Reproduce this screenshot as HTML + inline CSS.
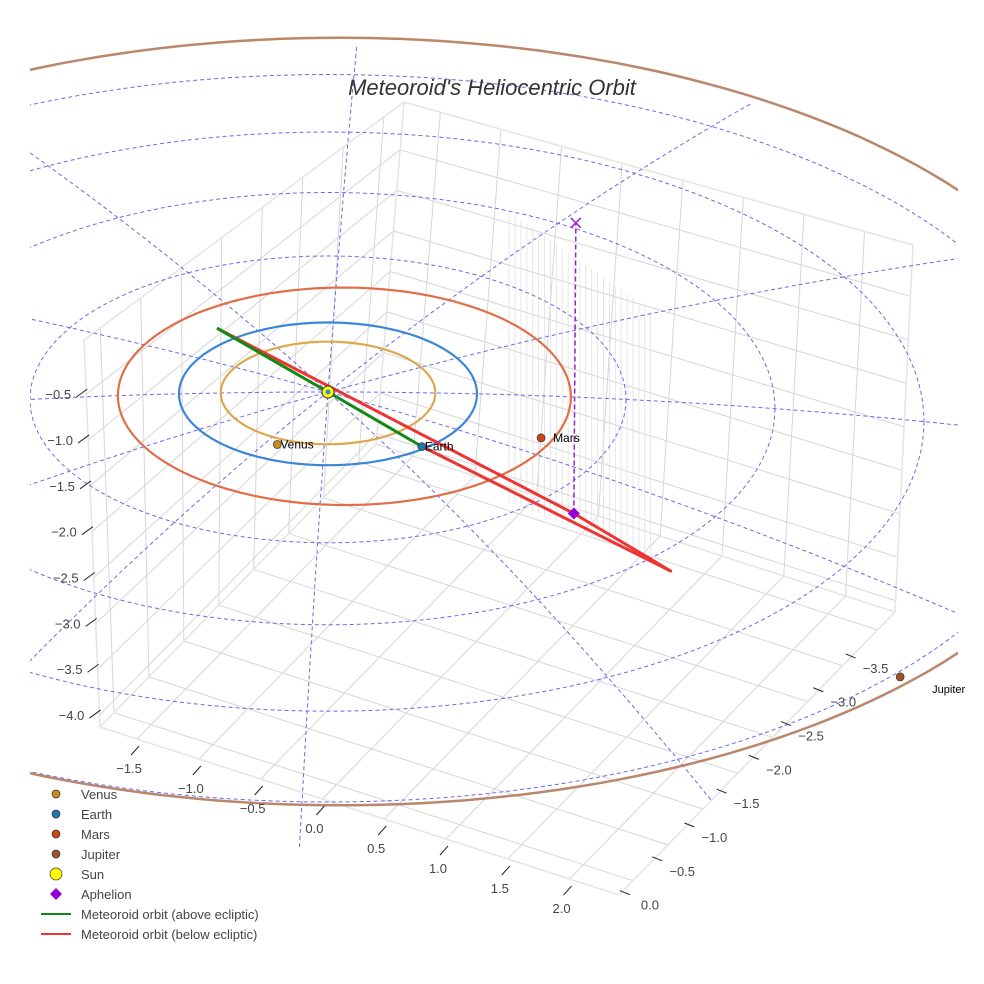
<!DOCTYPE html>
<html><head><meta charset="utf-8"><style>
html,body{margin:0;padding:0;background:#fff;}
svg{display:block;font-family:"Liberation Sans",Arial,sans-serif;}
</style></head><body>
<svg id="chart" width="984" height="984" viewBox="0 0 984 984" xmlns="http://www.w3.org/2000/svg">
<defs><clipPath id="clip"><rect x="30" y="0" width="928" height="984"/></clipPath></defs>
<rect x="0" y="0" width="984" height="984" fill="#fff"/>
<g clip-path="url(#clip)">
<g id="box"></g>
<g id="drops"></g>
<g id="rings"></g>
<g id="orbits"></g>
</g>
<g id="meteor"></g>
<g id="marks"></g>
<g id="ticks"></g>
<text x="492" y="95" text-anchor="middle" font-size="22" font-style="italic" fill="#333">Meteoroid's Heliocentric Orbit</text>
<g id="legend"></g>
</svg>
<script>
// ---- data ----
const planetNames = ["Venus","Earth","Mars","Jupiter"];
const planetOrbitRadii = [0.72, 1.0, 1.52, 5.2];
const planetOrbitOffsetX = [0, 0, 0.11, 0.08];
const planetOrbitOffsetY = [0, 0, 0, 0.4];
const planetX = [-0.34, 0.63, 1.43, 3.84];
const planetY = [0.72, 0.74, 0.58, 3.86];
const planetColors = ["#c98a1e","#1f77b4","#cc4411","#a0522d"];
const orbitColors = ["#dba84e","#3b86d6","#e06e48","#b9876c"];
const ringRadii = [1, 2, 3, 4, 5];
const spokeAngles = [0, 30, 62, 92, 121, 150];
const meteorAboveX = [-0.745, 0, 0.63];
const meteorAboveY = [-0.93, 0, 0.74];
const meteorBelowX = [-0.745, 1.65, 2.30, 0.63];
const meteorBelowY = [-0.93, 1.56, 2.22, 0.74];
const aphelionX = [1.65];
const aphelionY = [1.56];
const aphelionZ = [3.17];
const xTickLabels = ["−1.5","−1.0","−0.5","0.0","0.5","1.0","1.5","2.0"];
const xTickValues = [-1.5,-1.0,-0.5,0,0.5,1.0,1.5,2.0];
const yTickLabels = ["0.0","−0.5","−1.0","−1.5","−2.0","−2.5","−3.0","−3.5"];
const yTickValues = [0,-0.5,-1.0,-1.5,-2.0,-2.5,-3.0,-3.5];
const zTickLabels = ["−0.5","−1.0","−1.5","−2.0","−2.5","−3.0","−3.5","−4.0"];
const zTickValues = [-0.5,-1.0,-1.5,-2.0,-2.5,-3.0,-3.5,-4.0];

const NS="http://www.w3.org/2000/svg";
function mk(parent, tag, attrs){const e=document.createElementNS(NS,tag);for(const k in attrs)e.setAttribute(k,attrs[k]);parent.appendChild(e);return e;}
function proj(x,y){const r2=x*x+y*y,r=Math.sqrt(r2)||1;return [328+149*x, 392+71*y+r2*(1.85+0.35*y/r)];}
// outer-planet projection (far orbit, flatter perspective)
function projFar(x,y){return [328+149*x, 392+73.8*y];}
const ZS=91.7;

// ---- box ----
const L=[100,727],N=[619,895],R=[895,612],B=[376,444],TL=[84,340],TB=[404,102],TR=[913,245];
function bil(a,b,c,d,t,s){
  return [(1-t)*(1-s)*a[0]+t*(1-s)*b[0]+t*s*c[0]+(1-t)*s*d[0],(1-t)*(1-s)*a[1]+t*(1-s)*b[1]+t*s*c[1]+(1-t)*s*d[1]];}
const box=document.getElementById('box');
function gl(p,q,c,w){const l=mk(box,'line',{x1:p[0],y1:p[1],x2:q[0],y2:q[1],stroke:c||'#d6d6d6','stroke-width':w||1});

}
const xt=v=>(v+1.8)/4.2, ys=v=>(0.2-v)/3.95, zh=v=>(v+4.13)/4.22;
xTickValues.forEach(v=>{const t=xt(v);gl(bil(L,N,R,B,t,0),bil(L,N,R,B,t,1));});
yTickValues.forEach(v=>{const s=ys(v);gl(bil(L,N,R,B,0,s),bil(L,N,R,B,1,s));});
yTickValues.forEach(v=>{const s=ys(v);gl(bil(L,B,TB,TL,s,0),bil(L,B,TB,TL,s,1));});
zTickValues.forEach(v=>{const h=zh(v);gl(bil(L,B,TB,TL,0,h),bil(L,B,TB,TL,1,h));});
xTickValues.forEach(v=>{const t=xt(v);gl(bil(B,R,TR,TB,t,0),bil(B,R,TR,TB,t,1));});
zTickValues.forEach(v=>{const h=zh(v);gl(bil(B,R,TR,TB,0,h),bil(B,R,TR,TB,1,h));});
[[L,N],[N,R],[L,TL],[B,TB],[R,TR],[TL,TB],[TB,TR],[L,B],[B,R]].forEach(e=>gl(e[0],e[1],'#e4e4e4',1.5));

// ---- faint drop lines ----
const drops=document.getElementById('drops');
for(let i=0;i<=24;i++){const f=i/24;const x=meteorBelowX[1]+(meteorBelowX[2]-meteorBelowX[1])*f-0.3+0.3*f, y=meteorBelowY[1]+(meteorBelowY[2]-meteorBelowY[1])*f;
 const p=proj(x,y);const l=mk(drops,'line',{x1:p[0]-20,y1:p[1]-10,x2:p[0]-20,y2:p[1]-300+f*40,stroke:'#e0e0e0','stroke-width':0.8});
 
 }

// ---- rings & spokes ----
const rings=document.getElementById('rings');
ringRadii.forEach(r=>{let d='';for(let i=0;i<=180;i++){const a=i/180*2*Math.PI;const p=proj(r*Math.cos(a),r*Math.sin(a));d+=(i?'L':'M')+p[0].toFixed(1)+' '+p[1].toFixed(1);}
 const e=mk(rings,'path',{d:d,fill:'none',stroke:'#6a6ae8','stroke-width':1,'stroke-dasharray':'4 3'});
 
 });
spokeAngles.forEach(deg=>{const a=deg*Math.PI/180;let d='';for(let i=-40;i<=40;i++){const r=i/40*5.5;const p=proj(r*Math.cos(a),r*Math.sin(a));d+=(i>-40?'L':'M')+p[0].toFixed(1)+' '+p[1].toFixed(1);}
 const e=mk(rings,'path',{d:d,fill:'none',stroke:'#6a6ae8','stroke-width':1,'stroke-dasharray':'4 3'});
 
 });

// ---- planet orbits ----
const orbits=document.getElementById('orbits');
const pp=(k,x,y)=>k==3?projFar(x,y):proj(x,y);
planetOrbitRadii.forEach((r,k)=>{let d='';for(let i=0;i<=240;i++){const a=i/240*2*Math.PI;const p=pp(k,planetOrbitOffsetX[k]+r*Math.cos(a),planetOrbitOffsetY[k]+r*Math.sin(a));d+=(i?'L':'M')+p[0].toFixed(1)+' '+p[1].toFixed(1);}
 const e=mk(orbits,'path',{d:d,fill:'none',stroke:orbitColors[k],'stroke-width':k==3?2.5:2.2});
 
 });

// ---- meteoroid ----
const met=document.getElementById('meteor');
function pl(xs,ys,c,name){const d=xs.map((x,i)=>{const p=proj(x,ys[i]);return (i?'L':'M')+p[0].toFixed(1)+' '+p[1].toFixed(1);}).join('');
 const e=mk(met,'path',{d:d,fill:'none',stroke:c,'stroke-width':3,'stroke-linejoin':'round'});
 
 }
pl(meteorBelowX,meteorBelowY,'#ee3333','meteoroid-below-ecliptic');
pl(meteorAboveX,meteorAboveY,'#128a12','meteoroid-above-ecliptic');

// ---- markers ----
const marks=document.getElementById('marks');
const ap=proj(aphelionX[0],aphelionY[0]);const apTop=[ap[0]+2,ap[1]-ZS*aphelionZ[0]];
const dl=mk(marks,'line',{x1:ap[0],y1:ap[1],x2:apTop[0],y2:apTop[1],stroke:'#9a1fd0','stroke-width':1.5,'stroke-dasharray':'5 3'});


const xm=mk(marks,'path',{d:`M${apTop[0]-5} ${apTop[1]-5}L${apTop[0]+5} ${apTop[1]+5}M${apTop[0]+5} ${apTop[1]-5}L${apTop[0]-5} ${apTop[1]+5}`,stroke:'#9a1fd0','stroke-width':1.5});


const dm=mk(marks,'path',{d:`M${ap[0]} ${ap[1]-6}L${ap[0]+6} ${ap[1]}L${ap[0]} ${ap[1]+6}L${ap[0]-6} ${ap[1]}Z`,fill:'#9400d3'});


planetNames.forEach((n,k)=>{const p=pp(k,planetX[k],planetY[k]);
 const c=mk(marks,'circle',{cx:p[0],cy:p[1],r:4,fill:planetColors[k],stroke:'#333','stroke-width':0.7});
 
 
 const t=mk(marks,'text',{x:p[0]+(k==3?32:(k==2?12:3)),y:p[1]+(k==3?16:4),'font-size':k==3?11:12,fill:'#000'});t.textContent=n;
 
 });
const sp=proj(0,0);
const sun=mk(marks,'circle',{cx:sp[0],cy:sp[1],r:6,fill:'#ffff00',stroke:'#333','stroke-width':1});


const sun2=mk(marks,'circle',{cx:sp[0],cy:sp[1],r:2.5,fill:'#3b86d6'});



// ---- ticks ----
const tk=document.getElementById('ticks');
function lab(x,y,s,name){const t=mk(tk,'text',{x:x,y:y,'font-size':13,fill:'#444','text-anchor':'middle'});t.textContent=s;
 
 }
function tmark(x1,y1,x2,y2){const l=mk(tk,'line',{x1:x1,y1:y1,x2:x2,y2:y2,stroke:'#222','stroke-width':1});
 
 }
xTickValues.forEach((v,i)=>{const p=bil(L,N,R,B,xt(v),0);lab(p[0]-8,p[1]+34,xTickLabels[i],'x-tick-label');tmark(p[0]-6,p[1]+16,p[0]+2,p[1]+7);});
yTickValues.forEach((v,i)=>{const p=bil(L,N,R,B,1,ys(v));const f=i/7;const ox=-5-19*f, oy=24+14*f;lab(p[0]+ox+22,p[1]+oy+5,yTickLabels[i],'y-tick-label');tmark(p[0]+ox-8,p[1]+oy-14,p[0]+ox+2,p[1]+oy-10);});
zTickValues.forEach((v,i)=>{const p=bil(L,B,TB,TL,0,zh(v));lab(p[0]-28,p[1]+5,zTickLabels[i],'z-tick-label');tmark(p[0]-10,p[1]+3,p[0]+1,p[1]-5);});

// ---- legend ----
const lg=document.getElementById('legend');
const items=[["Venus","c","#c98a1e",4],["Earth","c","#1f77b4",4],["Mars","c","#cc4411",4],["Jupiter","c","#a0522d",4],["Sun","c","#ffff00",6],["Aphelion","d","#9400d3",5],["Meteoroid orbit (above ecliptic)","l","#128a12"],["Meteoroid orbit (below ecliptic)","l","#ee3333"]];
items.forEach((it,i)=>{const y=794+i*20;let m;
 if(it[1]=='c'){m=mk(lg,'circle',{cx:56,cy:y,r:it[3],fill:it[2],stroke:'#333','stroke-width':0.7});}
 else if(it[1]=='d'){m=mk(lg,'path',{d:`M56 ${y-6}L62 ${y}L56 ${y+6}L50 ${y}Z`,fill:it[2]});}
 else {m=mk(lg,'line',{x1:41,y1:y,x2:71,y2:y,stroke:it[2],'stroke-width':2});}
 
 
 const t=mk(lg,'text',{x:81,y:y+5,'font-size':13,fill:'#444'});t.textContent=it[0];
 
 });
</script>
</body></html>
